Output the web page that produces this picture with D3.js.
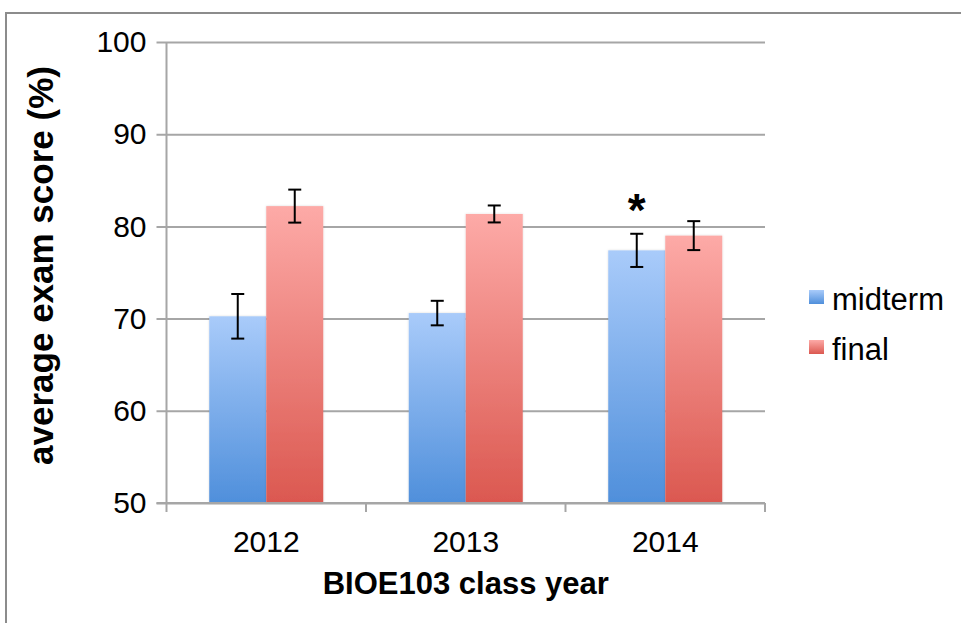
<!DOCTYPE html>
<html>
<head>
<meta charset="utf-8">
<script src="https://cdn.jsdelivr.net/npm/d3@7"></script>
<style>
  body { margin: 0; background: #fff; }
  text { font-family: "Liberation Sans", Arial, sans-serif; fill: #000; }
</style>
</head>
<body>
<svg id="chart" width="961" height="623"></svg>
<script>
const years = ["2012", "2013", "2014"];
const seriesNames = ["midterm", "final"];
const midterm = [70.25, 70.6, 77.4];
const final = [82.2, 81.35, 79.0];
const midtermErr = [2.42, 1.33, 1.8];
const finalErr = [1.79, 0.92, 1.57];
const yTicks = [50, 60, 70, 80, 90, 100];
const starred = [null, null, "midterm"];

const svg = d3.select("#chart");

// outer frame of the original figure (runs off the right and bottom)
svg.append("path")
    .attr("d", "M6,640 V13 H980")
    .attr("fill", "none")
    .attr("stroke", "#8c8c8c")
    .attr("stroke-width", 2);

const plotLeft = 166.5, plotRight = 765, plotTop = 42, plotBottom = 503;

const x = d3.scaleBand().domain(years).range([plotLeft, plotRight]);
const xs = d3.scaleBand().domain(seriesNames).range([0, x.bandwidth()]).paddingOuter(0.75);
const y = d3.scaleLinear().domain([50, 100]).range([plotBottom, plotTop]);

// gradients for the bars (each bar runs light at top to darker at bottom)
const defs = svg.append("defs");
function grad(id, c1, c2) {
    const g = defs.append("linearGradient").attr("id", id)
        .attr("x1", 0).attr("y1", 0).attr("x2", 0).attr("y2", 1);
    g.append("stop").attr("offset", 0).attr("stop-color", c1);
    g.append("stop").attr("offset", 1).attr("stop-color", c2);
}
grad("g-midterm", "#a9cbfa", "#4f8fdb");
grad("g-final", "#fdaaa7", "#db5850");

const shadow = defs.append("filter").attr("id", "shadow")
    .attr("x", "-10%").attr("y", "-10%").attr("width", "130%").attr("height", "130%");
shadow.append("feDropShadow").attr("dx", 0).attr("dy", 0).attr("stdDeviation", 1.2)
    .attr("flood-color", "#000").attr("flood-opacity", 0.15);

// gridlines + y axis
const yAxis = d3.axisLeft(y).tickValues(yTicks).tickSize(-(plotRight - plotLeft)).tickFormat(d3.format("d")).tickPadding(20);
const gy = svg.append("g").attr("transform", `translate(${plotLeft},0)`).call(yAxis);
gy.select(".domain").remove();
gy.selectAll(".tick line").attr("stroke", "#a6a6a6").attr("stroke-width", 2).attr("x1", -10);
gy.selectAll(".tick text").attr("font-size", 30).attr("font-family", "Liberation Sans, Arial, sans-serif").attr("fill", "#000");

svg.append("line").attr("x1", plotLeft).attr("x2", plotLeft).attr("y1", plotTop).attr("y2", plotBottom)
    .attr("stroke", "#a6a6a6").attr("stroke-width", 2);

// bars
const rows = years.map((yr, i) => ({
    year: yr,
    vals: [
        { key: "midterm", v: midterm[i], e: midtermErr[i] },
        { key: "final", v: final[i], e: finalErr[i] }
    ]
}));

const groups = svg.selectAll(".grp").data(rows).enter().append("g")
    .attr("class", "grp")
    .attr("transform", d => `translate(${x(d.year)},0)`);

groups.selectAll("rect").data(d => d.vals).enter().append("rect")
    .attr("x", d => xs(d.key))
    .attr("y", d => y(d.v))
    .attr("width", xs.bandwidth())
    .attr("height", d => y(50) - y(d.v))
    .attr("fill", d => `url(#g-${d.key})`)
    .attr("filter", "url(#shadow)");

// x axis
const xAxis = d3.axisBottom(x).tickSize(0).tickPadding(28);
const gx = svg.append("g").attr("transform", `translate(0,${plotBottom})`).call(xAxis);
gx.select(".domain").remove();
gx.selectAll(".tick text").attr("font-size", 30).attr("font-family", "Liberation Sans, Arial, sans-serif").attr("fill", "#000");
svg.append("line").attr("x1", plotLeft - 10).attr("x2", plotRight).attr("y1", plotBottom).attr("y2", plotBottom)
    .attr("stroke", "#a6a6a6").attr("stroke-width", 2);
const bounds = years.map(d => x(d)).concat([x(years[years.length - 1]) + x.bandwidth()]);
svg.selectAll(".xb").data(bounds).enter().append("line")
    .attr("x1", d => d).attr("x2", d => d)
    .attr("y1", plotBottom).attr("y2", plotBottom + 9)
    .attr("stroke", "#a6a6a6").attr("stroke-width", 2);

// error bars
const eb = groups.selectAll(".eb").data(d => d.vals).enter().append("g").attr("class", "eb")
    .attr("stroke", "#000").attr("stroke-width", 2);
const cx = d => xs(d.key) + xs.bandwidth() / 2;
eb.append("line").attr("x1", cx).attr("x2", cx).attr("y1", d => y(d.v + d.e)).attr("y2", d => y(d.v - d.e));
eb.append("line").attr("x1", d => cx(d) - 6.5).attr("x2", d => cx(d) + 6.5).attr("y1", d => y(d.v + d.e)).attr("y2", d => y(d.v + d.e));
eb.append("line").attr("x1", d => cx(d) - 6.5).attr("x2", d => cx(d) + 6.5).attr("y1", d => y(d.v - d.e)).attr("y2", d => y(d.v - d.e));

// significance marker
groups.each(function (d, i) {
    if (!starred[i]) return;
    const s = d.vals.find(v => v.key === starred[i]);
    d3.select(this).append("text")
        .attr("x", xs(s.key) + xs.bandwidth() / 2)
        .attr("y", y(s.v + s.e) - 8)
        .attr("text-anchor", "middle")
        .attr("font-size", 46).attr("font-weight", "bold")
        .text("*");
});

// axis titles
svg.append("text")
    .attr("x", (plotLeft + plotRight) / 2).attr("y", 594)
    .attr("text-anchor", "middle").attr("font-size", 31).attr("font-weight", "bold")
    .text("BIOE103 class year");
svg.append("text")
    .attr("transform", `translate(53,${(plotTop + plotBottom) / 2 - 7}) rotate(-90)`)
    .attr("text-anchor", "middle").attr("font-size", 35).attr("font-weight", "bold")
    .text("average exam score (%)");

// legend
const leg = svg.selectAll(".leg").data(seriesNames).enter().append("g")
    .attr("class", "leg")
    .attr("transform", (d, i) => `translate(809,${290 + i * 50})`);
leg.append("rect").attr("width", 15).attr("height", 14).attr("fill", d => `url(#g-${d})`);
leg.append("text").attr("x", 23).attr("y", 20).attr("font-size", 31).text(d => d);
</script>
</body>
</html>
